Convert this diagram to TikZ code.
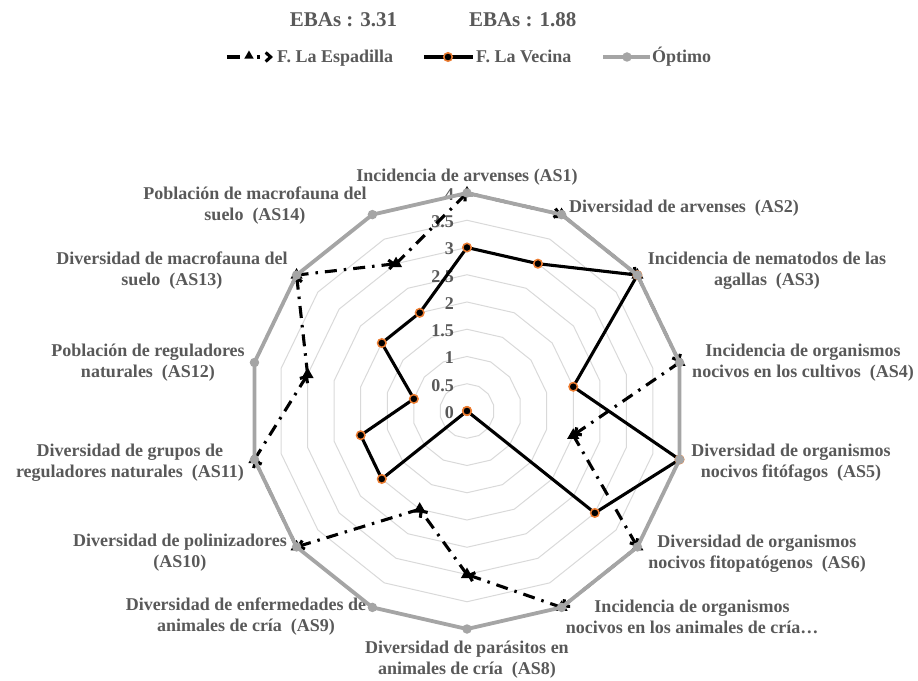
\documentclass[tikz,border=0pt]{standalone}
\usepackage{fontspec}
\setmainfont{Liberation Serif}
\usetikzlibrary{arrows.meta,shapes.geometric}

\definecolor{txtgray}{HTML}{595959}
\definecolor{optgray}{HTML}{A5A5A5}
\definecolor{ringgray}{HTML}{D9D9D9}
\definecolor{vecorange}{HTML}{ED7D31}

\begin{document}
\begin{tikzpicture}[
        x=1pt,
        y=1pt,
        ring/.style={draw=ringgray, line width=1pt},
        optline/.style={draw=optgray, line width=3.8pt, line join=round},
        vecline/.style={draw=black, line width=3.1pt, line join=round},
        espline/.style={draw=black, line width=3.1pt, dash pattern=on 12pt off 7pt on 2.5pt off 7pt, -{Straight Barb[length=5pt,width=9pt]}},
        optdot/.style={circle, fill=optgray, inner sep=0pt, minimum size=9.5pt},
        vecdot/.style={circle, fill=black, draw=vecorange, line width=1.5pt, inner sep=0pt, minimum size=8.5pt},
        esptri/.style={regular polygon, regular polygon sides=3, fill=black, inner sep=0pt, minimum size=14pt},
        lbl/.style={text=txtgray, font=\fontsize{18}{21}\selectfont\bfseries, align=center, inner sep=0pt},
        scl/.style={lbl, anchor=east}
    ]
        \useasboundingbox (-467,-269) rectangle (451,411);

        % rings 0.5 ... 4
        \foreach \r in {1,...,8}{
            \draw[ring] (90:\r*27.25) \foreach \i in {1,...,13}{ -- ({90-\i*360/14}:\r*27.25)} -- cycle;
        }
        \foreach \k/\t in {0/0,1/0.5,2/1,3/1.5,4/2,5/2.5,6/3,7/3.5,8/4}{
            \node[scl] (s\k) at (-13,\k*27.25-1.5) {\t};
        }

        % axis names
        \foreach \n/\x/\y/\t in {
            1/0/234/{Incidencia de arvenses (AS1)},
            2/217/203/{Diversidad de arvenses~ (AS2)},
            3/300/140/{Incidencia de nematodos de las\\agallas~ (AS3)},
            4/336/48/{Incidencia de organismos\\nocivos en los cultivos~ (AS4)},
            5/324/-52/{Diversidad de organismos\\nocivos fitófagos~ (AS5)},
            6/290/-143/{Diversidad de organismos\\nocivos fitopatógenos~ (AS6)},
            7/225/-206/{Incidencia de organismos\\nocivos en los animales de cría…},
            8/0/-249/{Diversidad de parásitos en\\animales de cría~ (AS8)},
            9/-221/-206/{Diversidad de enfermedades de\\animales de cría~ (AS9)},
            10/-287/-142/{Diversidad de polinizadores\\(AS10)},
            11/-337/-52/{Diversidad de grupos de\\reguladores naturales~ (AS11)},
            12/-319/48/{Población de reguladores\\naturales~ (AS12)},
            13/-295/140/{Diversidad de macrofauna del\\suelo~ (AS13)},
            14/-212/205/{Población de macrofauna del\\suelo~ (AS14)}}{
            \node[lbl] (ax\n) at (\x,\y) {\t};
        }

        % F. La Espadilla
        \foreach \v [count=\i] in {4,4,4,4,2,4,4,3,2,4,4,3,4,3}{
            \coordinate (E\i) at ({90-(\i-1)*360/14}:\v*54.5);
        }
        \foreach \i in {1,...,14}{
            \pgfmathtruncatemacro{\j}{mod(\i,14)+1}
            \draw[espline] (E\i) -- (E\j);
        }
        \foreach \i in {1,...,14}{
            \node[esptri] (te\i) at (E\i) {};
        }

        % F. La Vecina
        \foreach \v [count=\i] in {3,3,4,2,4,3,0,0,0,2,2,1,2,2}{
            \coordinate (V\i) at ({90-(\i-1)*360/14}:\v*54.5);
        }
        \draw[vecline] (V1) \foreach \i in {2,...,14}{ -- (V\i)} -- cycle;
        \foreach \i in {1,...,14}{
            \node[vecdot] (dv\i) at (V\i) {};
        }

        % Optimo
        \foreach \i in {1,...,14}{
            \coordinate (O\i) at ({90-(\i-1)*360/14}:218);
        }
        \draw[optline] (O1) \foreach \i in {2,...,14}{ -- (O\i)} -- cycle;
        \foreach \i in {1,...,14}{
            \node[optdot] (do\i) at (O\i) {};
        }

        % EBAs
        \node[lbl, font=\fontsize{21}{24}\selectfont\bfseries] (eba1) at (-123.5,391) {EBAs : 3.31};
        \node[lbl, font=\fontsize{21}{24}\selectfont\bfseries] (eba2) at (55.7,391) {EBAs : 1.88};

        % legend
        \coordinate (lgEa) at (-240,354);
        \coordinate (lgEb) at (-194,354);
        \draw[espline, dash pattern=on 13pt off 17pt on 3pt off 20pt] (lgEa) -- (lgEb);
        \node[esptri, minimum size=11pt] (lgEt) at (-218,355) {};
        \node[lbl, anchor=base west] (lgEtxt) at (-190,348) {F. La Espadilla};

        \coordinate (lgVa) at (-43,354);
        \coordinate (lgVb) at (6,354);
        \draw[vecline] (lgVa) -- (lgVb);
        \node[vecdot] (lgVd) at (-19,354) {};
        \node[lbl, anchor=base west] (lgVtxt) at (9,348) {F. La Vecina};

        \coordinate (lgOa) at (136,354);
        \coordinate (lgOb) at (183,354);
        \draw[optline] (lgOa) -- (lgOb);
        \node[optdot] (lgOd) at (160,354) {};
        \node[lbl, anchor=base west] (lgOtxt) at (185,348) {Óptimo};
    \end{tikzpicture}
\end{document}
